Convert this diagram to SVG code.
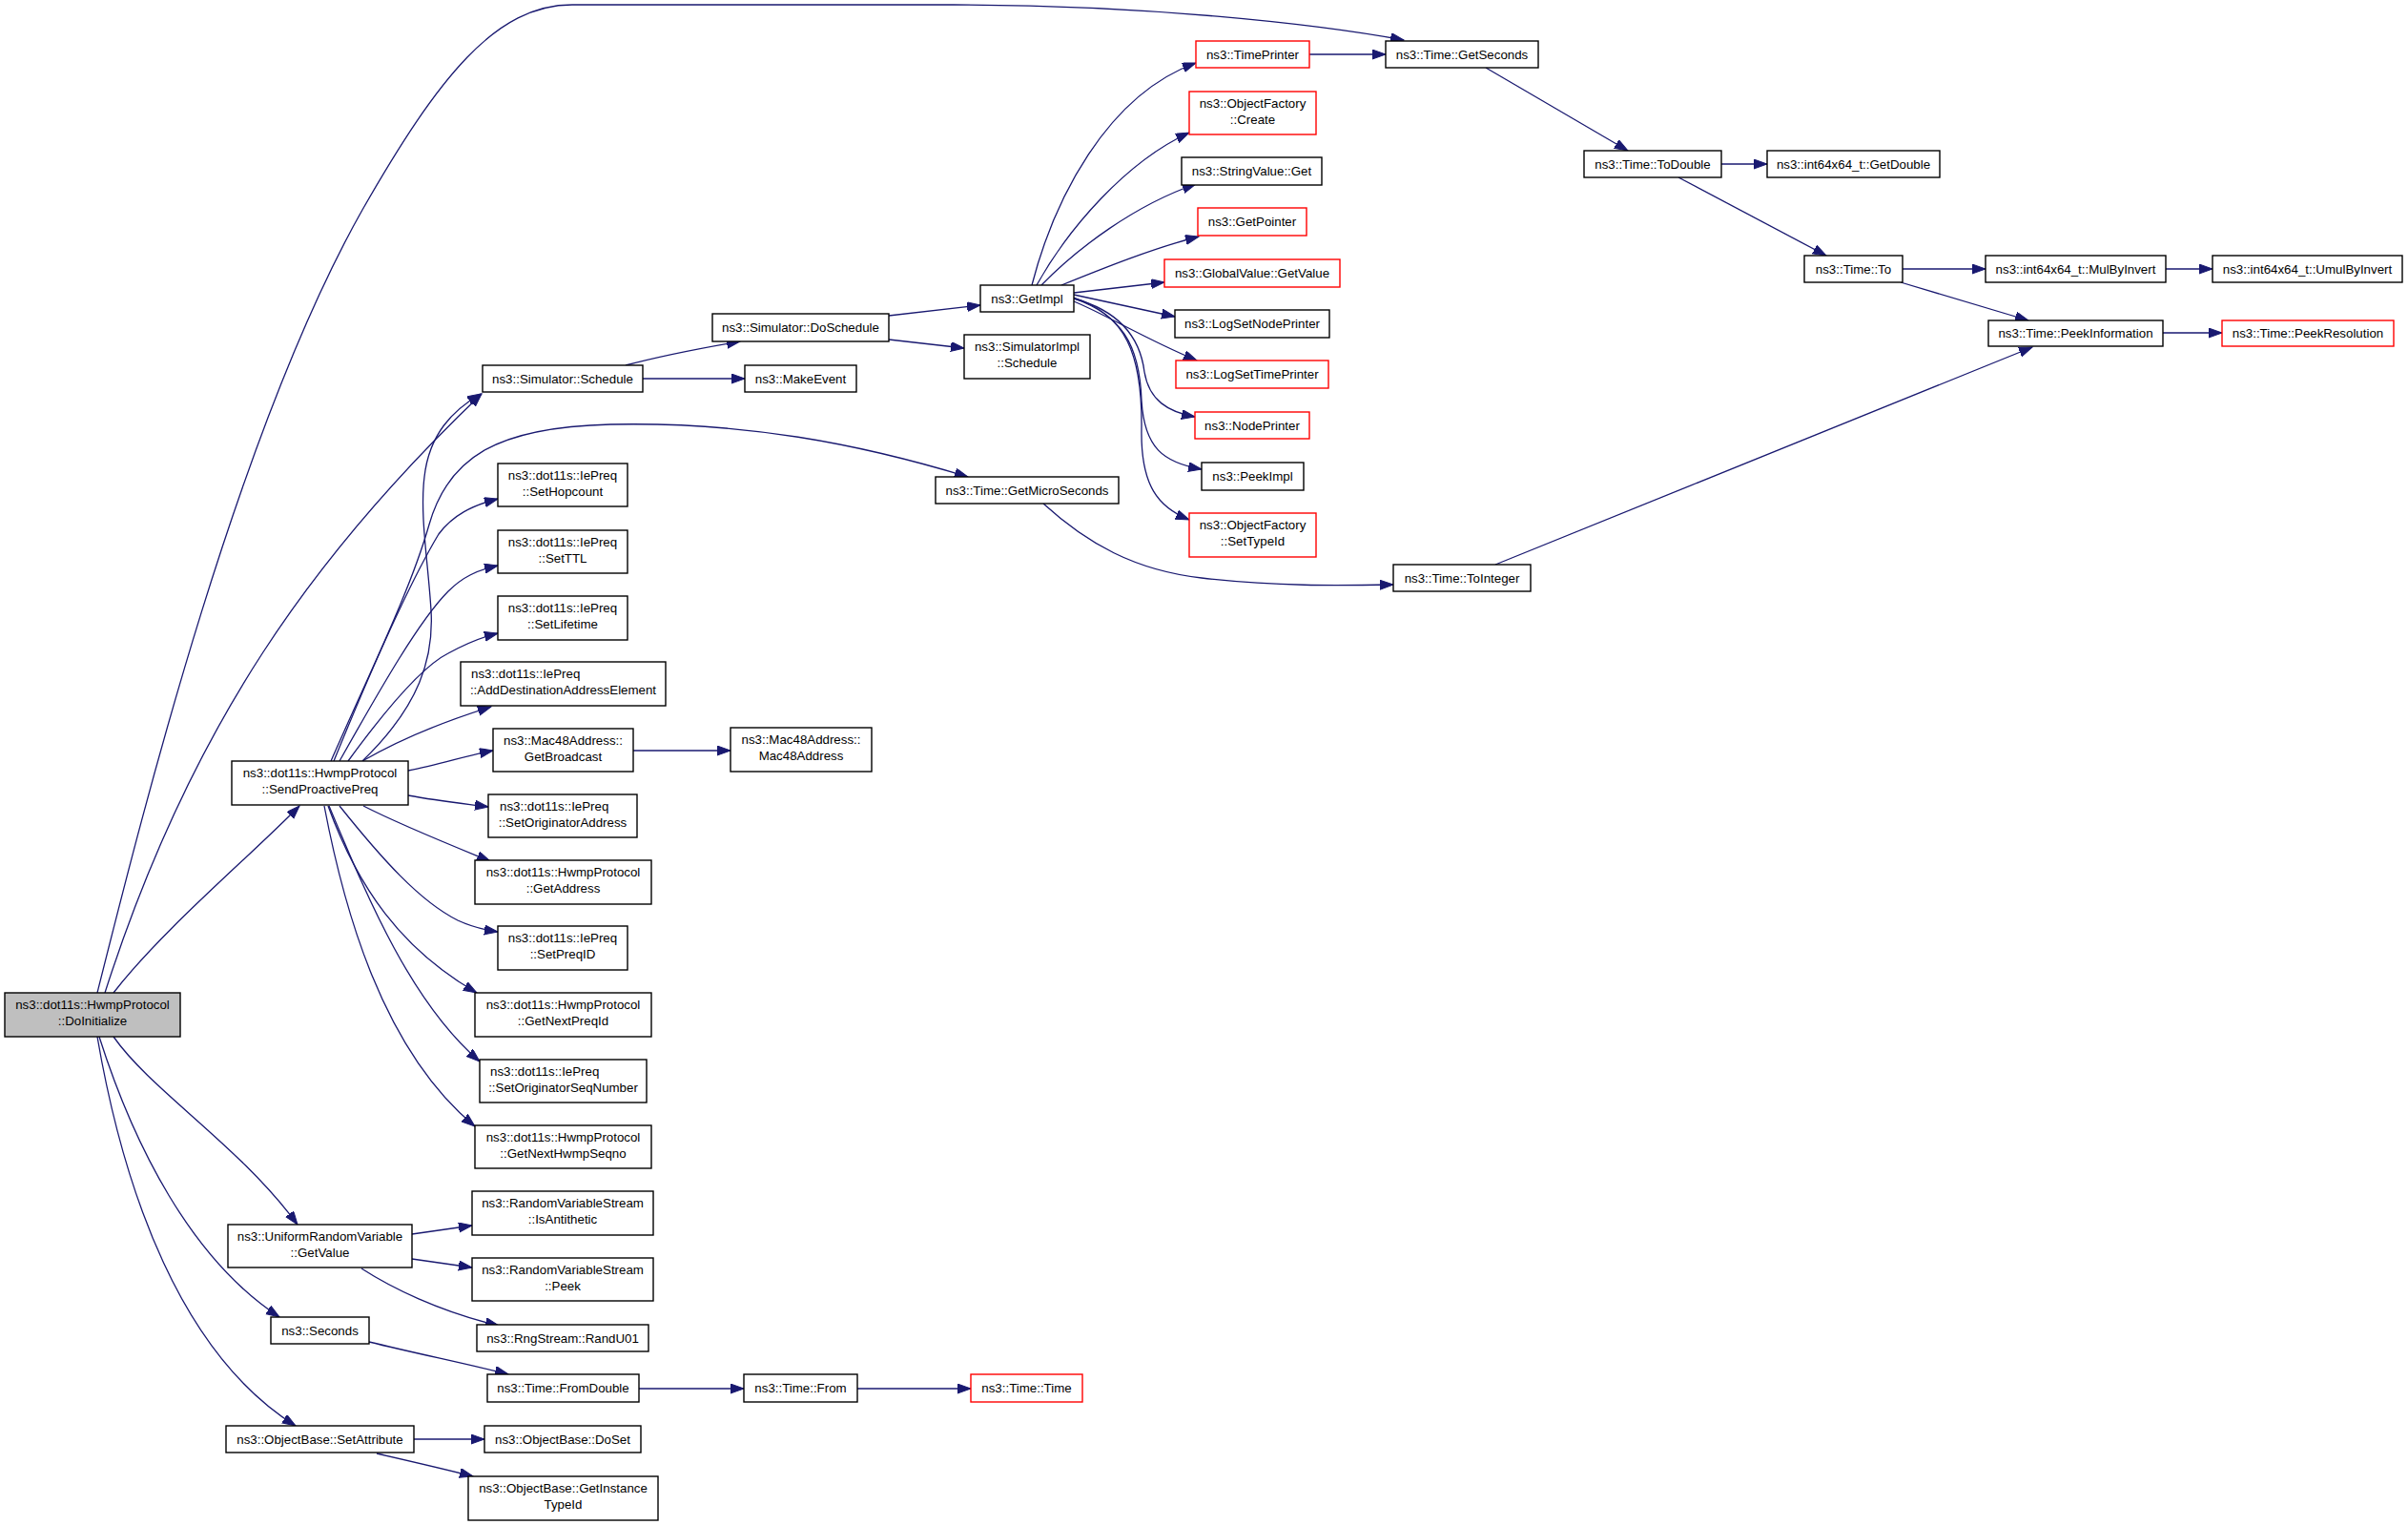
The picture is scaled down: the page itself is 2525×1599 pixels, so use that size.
<svg xmlns="http://www.w3.org/2000/svg" width="2525" height="1599" viewBox="0 0 2525 1599">
<defs>
<marker id="ah" markerUnits="userSpaceOnUse" markerWidth="16" markerHeight="12" refX="14" refY="5" orient="auto">
<path d="M0,0 L14,5 L0,10 z" fill="#191970" stroke="#191970" stroke-width="1"/>
</marker>
</defs>
<style>
.b{fill:#ffffff;stroke:#000000;stroke-width:1.4}
.r{fill:#ffffff;stroke:#ff0000;stroke-width:1.4}
.g{fill:#bfbfbf;stroke:#000000;stroke-width:1.4}
text{font-family:"Liberation Sans",Arial,Helvetica,sans-serif;font-size:13.3px;fill:#000000}
.c{text-anchor:middle}
.e path{fill:none;stroke:#191970;stroke-width:1.3;marker-end:url(#ah)}
</style>
<rect x="0" y="0" width="2525" height="1599" fill="#ffffff"/>
<g class="e" id="edges">
<path d="M102,1041 C150,850 250,450 380,220 C460,80 520,5 600,5 L1000,5 C1200,5 1380,25 1472,42"/>
<path d="M110,1041 C200,760 330,580 505,413"/>
<path d="M119,1041 C170,975 260,900 314,845"/>
<path d="M119,1087 C160,1145 250,1200 312,1284"/>
<path d="M104,1087 C140,1200 200,1320 293,1381"/>
<path d="M102,1087 C130,1250 190,1420 310,1495"/>
<path d="M380,798 C440,740 455,690 452,640 C449,590 440,540 445,500 C450,455 475,430 504,413"/>
<path d="M347,798 C390,700 430,620 450,550 C470,480 520,448 640,445 C780,442 900,465 1015,500"/>
<path d="M350,798 C390,700 430,610 460,560 C475,540 495,530 522,523"/>
<path d="M356,798 C400,720 440,650 470,620 C485,605 500,598 522,593"/>
<path d="M365,798 C400,750 440,700 470,685 C490,674 505,668 522,664"/>
<path d="M380,798 C420,775 470,755 515,741"/>
<path d="M428,808 C460,802 490,792 517,787"/>
<path d="M428,834 C460,840 490,843 512,846"/>
<path d="M381,845 C420,865 470,885 514,903"/>
<path d="M356,845 C400,900 440,945 480,965 C495,972 508,975 522,977"/>
<path d="M344,845 C375,930 420,995 500,1041"/>
<path d="M345,845 C385,940 430,1050 503,1113"/>
<path d="M340,845 C360,950 400,1100 498,1181"/>
<path d="M432,1294 L495,1285"/>
<path d="M432,1320 L495,1329"/>
<path d="M379,1330 C410,1350 460,1375 523,1390"/>
<path d="M387,1407 C440,1420 490,1430 533,1441"/>
<path d="M434,1509 L508,1509"/>
<path d="M395,1524 C430,1532 465,1540 496,1548"/>
<path d="M670,1456 L780,1456"/>
<path d="M899,1456 L1018,1456"/>
<path d="M664,787 L766,787"/>
<path d="M656,383 C690,374 735,365 776,358"/>
<path d="M674,397 L781,397"/>
<path d="M932,331 L1028,320"/>
<path d="M932,356 L1011,365"/>
<path d="M1082,299 C1105,210 1160,100 1254,66"/>
<path d="M1087,299 C1120,240 1180,170 1247,139"/>
<path d="M1092,299 C1130,260 1190,215 1254,193"/>
<path d="M1113,299 C1160,280 1210,260 1257,248"/>
<path d="M1126,307 L1221,296"/>
<path d="M1126,309 L1232,332"/>
<path d="M1126,316 C1160,330 1200,355 1255,378"/>
<path d="M1126,313 C1170,325 1195,350 1200,390 C1205,420 1225,432 1253,437"/>
<path d="M1126,313 C1175,330 1195,360 1197,420 C1200,470 1220,485 1260,492"/>
<path d="M1126,312 C1180,330 1198,370 1197,450 C1196,510 1215,532 1247,545"/>
<path d="M1373,57 L1453,57"/>
<path d="M1558,71 L1707,158"/>
<path d="M1805,172 L1853,172"/>
<path d="M1760,186 L1915,268"/>
<path d="M1995,282 L2082,282"/>
<path d="M2271,282 L2320,282"/>
<path d="M1993,296 L2127,336"/>
<path d="M2268,349 L2330,349"/>
<path d="M1568,592 L2131,364"/>
<path d="M1094,528 C1140,570 1190,598 1260,606 C1340,615 1400,614 1461,613"/>
</g>
<g id="n_doinit"><rect class="g" x="5" y="1041" width="184" height="46"/><text class="c" x="97" y="1058">ns3::dot11s::HwmpProtocol</text><text class="c" x="97" y="1075">::DoInitialize</text></g>
<g id="n_sched"><rect class="b" x="506" y="383" width="168" height="28"/><text class="c" x="590" y="402">ns3::Simulator::Schedule</text></g>
<g id="n_spp"><rect class="b" x="243" y="798" width="185" height="46"/><text class="c" x="335.5" y="815">ns3::dot11s::HwmpProtocol</text><text class="c" x="335.5" y="832">::SendProactivePreq</text></g>
<g id="n_urv"><rect class="b" x="239" y="1284" width="193" height="45"/><text class="c" x="335.5" y="1301">ns3::UniformRandomVariable</text><text class="c" x="335.5" y="1318">::GetValue</text></g>
<g id="n_seconds"><rect class="b" x="284" y="1381" width="103" height="28"/><text class="c" x="335.5" y="1400">ns3::Seconds</text></g>
<g id="n_setattr"><rect class="b" x="237" y="1495" width="197" height="28"/><text class="c" x="335.5" y="1514">ns3::ObjectBase::SetAttribute</text></g>
<g id="n_hop"><rect class="b" x="522" y="486" width="136" height="45"/><text class="c" x="590" y="503">ns3::dot11s::IePreq</text><text class="c" x="590" y="520">::SetHopcount</text></g>
<g id="n_ttl"><rect class="b" x="522" y="556" width="136" height="45"/><text class="c" x="590" y="573">ns3::dot11s::IePreq</text><text class="c" x="590" y="590">::SetTTL</text></g>
<g id="n_life"><rect class="b" x="522" y="625" width="136" height="46"/><text class="c" x="590" y="642">ns3::dot11s::IePreq</text><text class="c" x="590" y="659">::SetLifetime</text></g>
<g id="n_adde"><rect class="b" x="483" y="694" width="215" height="46"/><text x="494" y="711">ns3::dot11s::IePreq</text><text class="c" x="590.5" y="728">::AddDestinationAddressElement</text></g>
<g id="n_bcast"><rect class="b" x="517" y="764" width="147" height="45"/><text class="c" x="590.5" y="781">ns3::Mac48Address::</text><text class="c" x="590.5" y="798">GetBroadcast</text></g>
<g id="n_soa"><rect class="b" x="512" y="833" width="156" height="45"/><text x="524" y="850">ns3::dot11s::IePreq</text><text class="c" x="590" y="867">::SetOriginatorAddress</text></g>
<g id="n_gaddr"><rect class="b" x="498" y="902" width="185" height="46"/><text class="c" x="590.5" y="919">ns3::dot11s::HwmpProtocol</text><text class="c" x="590.5" y="936">::GetAddress</text></g>
<g id="n_preqid"><rect class="b" x="522" y="971" width="136" height="46"/><text class="c" x="590" y="988">ns3::dot11s::IePreq</text><text class="c" x="590" y="1005">::SetPreqID</text></g>
<g id="n_nextpreq"><rect class="b" x="498" y="1041" width="185" height="46"/><text class="c" x="590.5" y="1058">ns3::dot11s::HwmpProtocol</text><text class="c" x="590.5" y="1075">::GetNextPreqId</text></g>
<g id="n_sosn"><rect class="b" x="503" y="1111" width="175" height="45"/><text x="514" y="1128">ns3::dot11s::IePreq</text><text class="c" x="590.5" y="1145">::SetOriginatorSeqNumber</text></g>
<g id="n_nhs"><rect class="b" x="498" y="1180" width="185" height="45"/><text class="c" x="590.5" y="1197">ns3::dot11s::HwmpProtocol</text><text class="c" x="590.5" y="1214">::GetNextHwmpSeqno</text></g>
<g id="n_anti"><rect class="b" x="495" y="1249" width="190" height="46"/><text class="c" x="590" y="1266">ns3::RandomVariableStream</text><text class="c" x="590" y="1283">::IsAntithetic</text></g>
<g id="n_peek"><rect class="b" x="495" y="1319" width="190" height="45"/><text class="c" x="590" y="1336">ns3::RandomVariableStream</text><text class="c" x="590" y="1353">::Peek</text></g>
<g id="n_randu"><rect class="b" x="500" y="1389" width="180" height="28"/><text class="c" x="590" y="1408">ns3::RngStream::RandU01</text></g>
<g id="n_fromd"><rect class="b" x="511" y="1441" width="159" height="29"/><text class="c" x="590.5" y="1460">ns3::Time::FromDouble</text></g>
<g id="n_doset"><rect class="b" x="508" y="1495" width="164" height="28"/><text class="c" x="590" y="1514">ns3::ObjectBase::DoSet</text></g>
<g id="n_git"><rect class="b" x="491" y="1548" width="199" height="46"/><text class="c" x="590.5" y="1565">ns3::ObjectBase::GetInstance</text><text class="c" x="590.5" y="1582">TypeId</text></g>
<g id="n_dosched"><rect class="b" x="747" y="329" width="185" height="29"/><text class="c" x="839.5" y="348">ns3::Simulator::DoSchedule</text></g>
<g id="n_make"><rect class="b" x="781" y="383" width="117" height="28"/><text class="c" x="839.5" y="402">ns3::MakeEvent</text></g>
<g id="n_mac"><rect class="b" x="766" y="763" width="148" height="46"/><text class="c" x="840" y="780">ns3::Mac48Address::</text><text class="c" x="840" y="797">Mac48Address</text></g>
<g id="n_from"><rect class="b" x="780" y="1441" width="119" height="29"/><text class="c" x="839.5" y="1460">ns3::Time::From</text></g>
<g id="n_gms"><rect class="b" x="981" y="500" width="192" height="28"/><text class="c" x="1077" y="519">ns3::Time::GetMicroSeconds</text></g>
<g id="n_getimpl"><rect class="b" x="1028" y="299" width="98" height="28"/><text class="c" x="1077" y="318">ns3::GetImpl</text></g>
<g id="n_simimpl"><rect class="b" x="1011" y="351" width="132" height="46"/><text class="c" x="1077" y="368">ns3::SimulatorImpl</text><text class="c" x="1077" y="385">::Schedule</text></g>
<g id="n_time"><rect class="r" x="1018" y="1441" width="117" height="29"/><text class="c" x="1076.5" y="1460">ns3::Time::Time</text></g>
<g id="n_tp"><rect class="r" x="1254" y="43" width="119" height="28"/><text class="c" x="1313.5" y="62">ns3::TimePrinter</text></g>
<g id="n_create"><rect class="r" x="1247" y="96" width="133" height="45"/><text class="c" x="1313.5" y="113">ns3::ObjectFactory</text><text class="c" x="1313.5" y="130">::Create</text></g>
<g id="n_strget"><rect class="b" x="1239" y="165" width="147" height="29"/><text class="c" x="1312.5" y="184">ns3::StringValue::Get</text></g>
<g id="n_getptr"><rect class="r" x="1256" y="218" width="114" height="29"/><text class="c" x="1313" y="237">ns3::GetPointer</text></g>
<g id="n_gvget"><rect class="r" x="1221" y="272" width="184" height="29"/><text class="c" x="1313" y="291">ns3::GlobalValue::GetValue</text></g>
<g id="n_lsnp"><rect class="b" x="1232" y="325" width="162" height="29"/><text class="c" x="1313" y="344">ns3::LogSetNodePrinter</text></g>
<g id="n_lstp"><rect class="r" x="1233" y="378" width="160" height="29"/><text class="c" x="1313" y="397">ns3::LogSetTimePrinter</text></g>
<g id="n_np"><rect class="r" x="1253" y="432" width="120" height="28"/><text class="c" x="1313" y="451">ns3::NodePrinter</text></g>
<g id="n_peekimpl"><rect class="b" x="1260" y="485" width="107" height="29"/><text class="c" x="1313.5" y="504">ns3::PeekImpl</text></g>
<g id="n_settid"><rect class="r" x="1247" y="538" width="133" height="46"/><text class="c" x="1313.5" y="555">ns3::ObjectFactory</text><text class="c" x="1313.5" y="572">::SetTypeId</text></g>
<g id="n_gsec"><rect class="b" x="1453" y="43" width="160" height="28"/><text class="c" x="1533" y="62">ns3::Time::GetSeconds</text></g>
<g id="n_toint"><rect class="b" x="1461" y="592" width="144" height="28"/><text class="c" x="1533" y="611">ns3::Time::ToInteger</text></g>
<g id="n_todbl"><rect class="b" x="1661" y="158" width="144" height="28"/><text class="c" x="1733" y="177">ns3::Time::ToDouble</text></g>
<g id="n_getdbl"><rect class="b" x="1853" y="158" width="181" height="28"/><text class="c" x="1943.5" y="177">ns3::int64x64_t::GetDouble</text></g>
<g id="n_to"><rect class="b" x="1892" y="268" width="103" height="28"/><text class="c" x="1943.5" y="287">ns3::Time::To</text></g>
<g id="n_pinfo"><rect class="b" x="2085" y="336" width="183" height="27"/><text class="c" x="2176.5" y="354">ns3::Time::PeekInformation</text></g>
<g id="n_mbi"><rect class="b" x="2082" y="268" width="189" height="28"/><text class="c" x="2176.5" y="287">ns3::int64x64_t::MulByInvert</text></g>
<g id="n_umbi"><rect class="b" x="2320" y="268" width="199" height="28"/><text class="c" x="2419.5" y="287">ns3::int64x64_t::UmulByInvert</text></g>
<g id="n_pres"><rect class="r" x="2330" y="336" width="180" height="27"/><text class="c" x="2420" y="354">ns3::Time::PeekResolution</text></g>
</svg>
